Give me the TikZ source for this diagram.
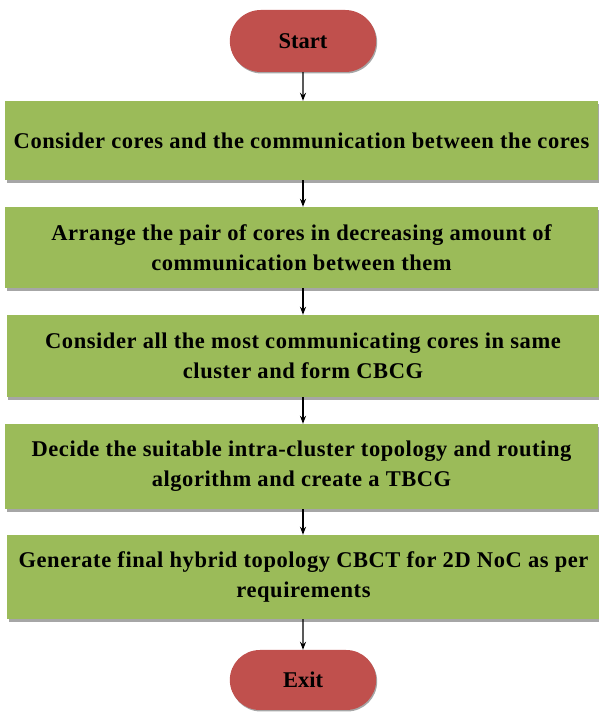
\documentclass[tikz,border=0pt]{standalone}
\usepackage{fontspec}
\setmainfont{Liberation Serif}
\usetikzlibrary{shapes.misc,shadows,arrows.meta}
\definecolor{stepgreen}{RGB}{155,187,89}
\definecolor{termred}{RGB}{192,80,77}

\begin{document}
\begin{tikzpicture}[x=1pt,y=1pt,
    stepbox/.style={fill=stepgreen, minimum width=593pt, inner sep=0pt, align=center,
        font=\fontsize{22.5}{30}\selectfont\bfseries\addfontfeature{LetterSpace=2.5},
        drop shadow={shadow xshift=1.5pt,shadow yshift=-3pt,opacity=0.35,fill=black}},
    term/.style={rounded rectangle, fill=termred, minimum width=153pt, minimum height=62pt,
        font=\fontsize{22.5}{28}\selectfont\bfseries,
        drop shadow={shadow xshift=1pt,shadow yshift=-1.5pt,opacity=0.35,fill=black}},
    flow/.style={-{Stealth[length=8pt,width=6pt]}, line width=1.1pt}]
    \useasboundingbox (0,0) rectangle (599,713);
    \node[term] (start) at (303,672) {Start};
    \node[stepbox, minimum height=79pt] (cores) at (301.5,572.5)
        {Consider cores and the communication between the cores};
    \node[stepbox, minimum height=81pt] (arrange) at (301.5,465.5)
        {Arrange the pair of cores in decreasing amount of\\communication between them};
    \node[stepbox, minimum height=82pt] (cluster) at (303,357)
        {Consider all the most communicating cores in same\\cluster and form CBCG};
    \node[stepbox, minimum height=85pt] (decide) at (301.5,246.5)
        {Decide the suitable  intra-cluster topology and routing\\algorithm and create a TBCG};
    \node[stepbox, minimum height=84pt] (generate) at (303.5,136)
        {Generate final hybrid topology CBCT for 2D NoC as per\\requirements};
    \node[term, minimum height=60pt] (exit) at (303,33) {Exit};

    % flow of the steps
    \draw[flow] (start) -- (start|-cores.north);
    \draw[flow] (cores.south-|start) -- (start|-arrange.north);
    \draw[flow] (arrange.south-|start) -- (start|-cluster.north);
    \draw[flow] (cluster.south-|start) -- (start|-decide.north);
    \draw[flow] (decide.south-|start) -- (start|-generate.north);
    \draw[flow] (generate.south-|start) -- (exit);
\end{tikzpicture}
\end{document}
